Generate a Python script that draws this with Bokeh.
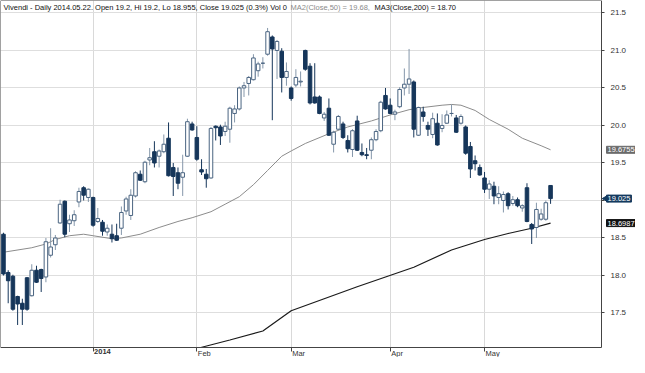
from bokeh.plotting import figure
from bokeh.models import FixedTicker, Label, Range1d, ColumnDataSource, NumeralTickFormatter
from bokeh.embed import file_html
from bokeh.resources import INLINE
import math

# ---- data ----
opens = [18.55, 18.04, 17.99, 17.72, 17.63, 17.97, 17.73, 18.07, 18.08, 17.98,
         18.27, 18.41, 18.70, 18.99, 18.69, 18.73, 18.98, 19.17, 19.04, 19.04,
         18.72, 18.71, 18.58, 18.55, 18.53, 18.63, 18.86, 18.80, 19.06, 19.35,
         19.25, 19.54, 19.65, 19.59, 19.65, 19.83, 19.44, 19.37, 19.31, 19.59,
         20.02, 19.84, 19.41, 19.35, 19.30, 19.99, 19.98, 19.92, 19.95, 20.16,
         20.22, 20.50, 20.56, 20.61, 20.73, 20.83, 20.95, 21.18, 21.00, 20.99,
         20.64, 20.50, 20.54, 20.58, 21.00, 20.79, 20.38, 20.38, 20.10, 20.23,
         19.75, 19.95, 20.02, 19.80, 19.68, 20.06, 19.64, 19.61, 19.67, 19.81,
         19.93, 20.40, 20.27, 20.15, 20.25, 20.50, 20.55, 20.58, 19.87, 20.18,
         20.00, 19.88, 20.03, 19.96, 20.03, 20.16, 20.10, 20.03, 19.98, 19.72,
         19.53, 19.44, 19.30, 19.15, 19.19, 19.04, 19.00, 19.09, 18.96, 19.01,
         18.90, 19.17, 18.68, 18.64, 18.75, 18.75, 19.20]
highs = [18.57, 18.07, 18.01, 17.73, 17.69, 17.98, 18.15, 18.13, 18.09, 18.50,
         18.63, 18.54, 19.01, 19.00, 18.81, 18.87, 19.17, 19.19, 19.16, 19.05,
         18.90, 18.74, 18.68, 18.68, 18.69, 18.92, 19.05, 19.15, 19.39, 19.40,
         19.53, 19.70, 19.79, 19.68, 19.88, 20.04, 19.50, 19.44, 19.61, 20.09,
         20.05, 19.99, 19.55, 19.42, 19.98, 20.00, 20.01, 20.05, 20.25, 20.27,
         20.52, 20.58, 20.66, 20.95, 20.85, 20.91, 21.30, 21.20, 21.14, 21.03,
         20.84, 20.52, 20.75, 20.72, 21.01, 20.83, 20.83, 20.40, 20.18, 20.36,
         19.93, 20.14, 20.05, 19.87, 19.95, 20.13, 19.76, 19.70, 19.84, 19.95,
         20.33, 20.50, 20.36, 20.21, 20.51, 20.76, 21.02, 20.60, 20.25, 20.25,
         20.05, 20.17, 20.16, 20.15, 20.20, 20.28, 20.14, 20.15, 20.00, 19.78,
         19.60, 19.48, 19.38, 19.27, 19.25, 19.19, 19.12, 19.11, 19.06, 19.04,
         18.95, 19.23, 18.70, 18.97, 18.89, 19.00, 19.20]
lows = [18.00, 17.63, 17.53, 17.34, 17.34, 17.53, 17.72, 17.90, 17.78, 17.91,
        18.24, 18.34, 18.69, 18.51, 18.58, 18.66, 18.91, 19.00, 18.98, 18.65,
        18.70, 18.53, 18.53, 18.44, 18.46, 18.54, 18.81, 18.74, 19.04, 19.26,
        19.23, 19.47, 19.44, 19.44, 19.63, 19.32, 19.06, 19.15, 19.06, 19.58,
        19.93, 19.53, 19.34, 19.17, 19.29, 19.80, 19.74, 19.86, 19.77, 20.04,
        20.20, 20.38, 20.40, 20.60, 20.65, 20.76, 20.93, 20.07, 20.62, 20.44,
        20.53, 20.33, 20.51, 20.52, 20.73, 20.28, 20.29, 20.15, 20.06, 19.86,
        19.64, 19.94, 19.82, 19.64, 19.58, 19.66, 19.59, 19.55, 19.55, 19.79,
        19.91, 20.21, 20.15, 20.07, 20.23, 20.40, 20.42, 19.84, 19.86, 20.05,
        19.86, 19.83, 19.73, 19.91, 20.02, 20.12, 19.90, 20.01, 19.61, 19.30,
        19.40, 19.33, 19.10, 19.02, 18.95, 18.95, 18.84, 18.88, 18.93, 18.91,
        18.85, 18.71, 18.42, 18.50, 18.73, 18.73, 18.955]
closes = [18.02, 17.93, 17.55, 17.62, 17.55, 17.55, 18.07, 17.91, 17.96, 18.45,
          18.38, 18.50, 18.95, 18.55, 18.74, 18.81, 19.12, 19.07, 19.15, 18.67,
          18.76, 18.59, 18.63, 18.49, 18.47, 18.84, 19.02, 19.07, 19.37, 19.27,
          19.51, 19.57, 19.50, 19.66, 19.75, 19.33, 19.32, 19.23, 19.37, 20.05,
          19.94, 19.55, 19.38, 19.29, 19.96, 19.97, 19.86, 19.99, 20.23, 20.22,
          20.50, 20.53, 20.64, 20.90, 20.82, 20.83, 21.25, 21.02, 21.12, 20.64,
          20.72, 20.36, 20.64, 20.59, 20.75, 20.30, 20.30, 20.16, 20.15, 19.87,
          19.91, 20.12, 19.84, 19.69, 19.93, 19.67, 19.61, 19.60, 19.81, 19.92,
          20.31, 20.22, 20.16, 20.18, 20.48, 20.55, 20.62, 19.95, 20.24, 20.12,
          19.95, 20.09, 19.74, 20.00, 20.14, 20.16, 19.91, 20.12, 19.63, 19.42,
          19.49, 19.34, 19.15, 19.22, 19.06, 19.09, 19.08, 18.93, 19.01, 18.93,
          18.93, 18.72, 18.62, 18.88, 18.82, 18.97, 19.025]

ma50_idx = [0, 6, 9, 11, 14, 17, 19, 23, 25, 29, 33, 37, 40, 44, 47, 50, 53, 56,
            59, 61, 64, 69, 73, 78, 82, 86, 89, 93, 95, 97, 100, 103, 107, 110,
            114, 116]
ma50_val = [18.31, 18.37, 18.42, 18.48, 18.53, 18.55, 18.53, 18.49, 18.50, 18.55,
            18.64, 18.72, 18.77, 18.85, 18.95, 19.05, 19.21, 19.40, 19.59, 19.66,
            19.76, 19.89, 19.98, 20.06, 20.14, 20.21, 20.24, 20.27, 20.28, 20.27,
            20.20, 20.08, 19.95, 19.83, 19.73, 19.6755]
ma200_idx = [40, 48, 55, 61, 68, 75, 81, 87, 95, 102, 107, 112, 116]
ma200_val = [17.01, 17.14, 17.26, 17.53, 17.69, 17.85, 17.98, 18.11, 18.34, 18.48,
             18.56, 18.63, 18.6987]

month_idx = [19, 41, 61, 82, 102]
month_labels = ["2014", "Feb", "Mar", "Apr", "May"]
y_ticks = [17.5, 18.0, 18.5, 19.0, 19.5, 20.0, 20.5, 21.0, 21.5]

tag_values = [19.6755, 19.025, 18.6987]
tag_texts = ["19.6755", "19.025", "18.6987"]
tag_colors = ["#6b6b6b", "#143a5e", "#111111"]

header_parts = ["Vivendi - Daily 2014.05.22. Open 19.2, Hi 19.2, Lo 18.955, Close 19.025 (0.3%) Vol 0",
                "MA2(Close,50) = 19.68,", "MA3(Close,200) = 18.70"]
header_colors = ["#111111", "#8a8a8a", "#111111"]
header_offsets = [3, 290, 374]

FONT = "Liberation Sans"

# ---- layout (pixels) ----
W, H = 635, 357          # canvas
BOX_W, BOX_H = 601, 347  # chart box inside the canvas
X0, X1 = -0.63, 126.8    # index range of the chart box
Y0, Y1 = 17.04, 21.666   # price range of the chart box
ppx = BOX_W / (X1 - X0)
ppy = BOX_H / (Y1 - Y0)
X_END = X0 + W / ppx
Y_START = Y1 - H / ppy

p = figure(width=W, height=H, output_backend="svg", toolbar_location=None,
           x_range=Range1d(X0, X_END), y_range=Range1d(Y_START, Y1),
           y_axis_location="right", x_axis_location="below",
           min_border_left=0, min_border_top=0, min_border_right=0, min_border_bottom=0)
p.background_fill_color = "white"
p.border_fill_color = "white"
p.outline_line_color = None

# axes drawn along the chart box edges
p.xaxis.fixed_location = Y0
p.xaxis.ticker = FixedTicker(ticks=month_idx)
p.xaxis.major_tick_in = 0
p.xaxis.major_tick_out = 4
p.xaxis.minor_tick_line_color = None
p.xaxis.axis_line_color = None
p.xaxis.major_tick_line_color = "#444444"
p.xaxis.major_label_text_color = None

p.yaxis.fixed_location = X1
p.yaxis.ticker = FixedTicker(ticks=y_ticks)
p.yaxis.formatter = NumeralTickFormatter(format="0.0")
p.yaxis.major_tick_in = 0
p.yaxis.major_tick_out = 3
p.yaxis.minor_tick_line_color = None
p.yaxis.axis_line_color = None
p.yaxis.major_tick_line_color = "#444444"
p.yaxis.major_label_text_font = FONT
p.yaxis.major_label_text_font_size = "8px"
p.yaxis.major_label_text_color = "#333333"
p.yaxis.major_label_standoff = 6
p.yaxis.major_label_overrides = {19.0: ""}

p.xgrid.ticker = FixedTicker(ticks=month_idx)
p.xgrid.grid_line_color = "#d9d9d9"
p.ygrid.ticker = FixedTicker(ticks=y_ticks)
p.ygrid.grid_line_color = "#dedede"

# moving averages
p.line(ma50_idx, ma50_val, line_color="#8c8c8c", line_width=1)
p.line(ma200_idx, ma200_val, line_color="#1a1a1a", line_width=1.2)

# candles
n = len(opens)
idx = list(range(n))
up = [c >= o for o, c in zip(opens, closes)]
def subset(flag):
    sel = [i for i in idx if up[i] == flag]
    return ColumnDataSource(dict(
        x=sel, lo=[lows[i] for i in sel], hi=[highs[i] for i in sel],
        top=[max(opens[i], closes[i]) for i in sel],
        bot=[min(opens[i], closes[i]) for i in sel]))
src_up, src_dn = subset(True), subset(False)

p.segment(x0="x", y0="lo", x1="x", y1="hi", source=src_up, line_color="#8597aa", line_width=1)
p.segment(x0="x", y0="lo", x1="x", y1="hi", source=src_dn, line_color="#16365a", line_width=1)
p.vbar(x="x", width=0.75, top="top", bottom="bot", source=src_up,
       fill_color="white", line_color="#4a6481", line_width=1)
p.vbar(x="x", width=0.75, top="top", bottom="bot", source=src_dn,
       fill_color="#16365a", line_color="#16365a", line_width=1)

# white margins outside the chart box (hide grid / line overflow)
p.quad(left=[X1], right=[X_END], bottom=[Y_START], top=[Y1], fill_color="white", line_color=None)
p.quad(left=[X0], right=[X_END], bottom=[Y_START], top=[Y0], fill_color="white", line_color=None)
# chart box border
p.quad(left=[X0], right=[X1], bottom=[Y0], top=[Y1], fill_color=None, line_color="#444444", line_width=1)

# x-axis labels (left aligned at month ticks)
for m, lab in zip(month_idx, month_labels):
    p.add_layout(Label(x=m, y=Y0, x_offset=1, y_offset=-1, text=lab,
                       text_font=FONT, text_font_size="7.5px",
                       text_font_style="bold" if lab == "2014" else "normal",
                       text_color="#333333", text_align="left", text_baseline="top"))

# header
for txt, col, off in zip(header_parts, header_colors, header_offsets):
    p.add_layout(Label(x=X0, y=Y1, x_offset=off, y_offset=-2, text=txt,
                       text_font=FONT, text_font_size="7.5px", text_color=col,
                       text_align="left", text_baseline="top"))

# price tags on the right
p.scatter(x=[X1 + 1.0], y=[tag_values[1]], marker="triangle", angle=math.pi / 2,
          size=7, fill_color=tag_colors[1], line_color=tag_colors[1])
for v, t, c in zip(tag_values, tag_texts, tag_colors):
    p.add_layout(Label(x=X1, y=v, x_offset=5, text=t, text_font=FONT,
                       text_font_size="7.5px", text_color="white",
                       background_fill_color=c, border_line_color=c,
                       padding=1, text_align="left", text_baseline="middle"))

open("out.html", "w").write(file_html(p, INLINE))
